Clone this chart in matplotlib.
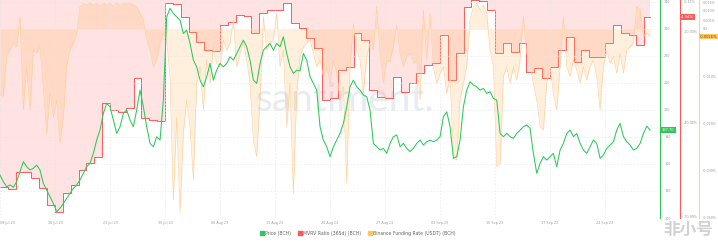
import numpy as np
import pandas as pd
import matplotlib
matplotlib.use("Agg")
import matplotlib.pyplot as plt
import matplotlib.dates as mdates
import matplotlib.transforms as mtransforms
from matplotlib.lines import Line2D

# sampled about every 10 hours, starting 09 Jul 23
START = pd.Timestamp("2023-07-09 00:00")

price = [
    147.8, 140.4, 134.8, 136.7, 134.1, 140.4, 151.5, 162.6, 157.0, 153.3,
    155.2, 158.8, 153.3, 138.5, 131.1, 123.7, 116.3, 107.1, 110.8, 116.3,
    121.9, 127.4, 132.9, 136.7, 142.2, 149.6, 157.0, 160.7, 171.8, 186.6,
    197.7, 216.2, 227.3, 223.6, 208.8, 194.0, 201.4, 216.2, 219.9, 208.8,
    201.4, 219.9, 242.1, 223.6, 201.4, 182.9, 179.2, 190.3, 186.6, 231.0,
    323.5, 332.8, 327.2, 323.5, 319.8, 305.0, 308.7, 293.9, 275.4, 268.0,
    253.2, 245.8, 256.9, 271.7, 253.2, 264.3, 271.7, 268.0, 271.7, 279.1,
    275.4, 282.8, 290.2, 297.6, 290.2, 275.4, 253.2, 249.5, 271.7, 286.5,
    290.2, 293.9, 286.5, 293.9, 290.2, 301.3, 282.8, 268.0, 260.6, 264.3,
    263.5, 282.8, 275.4, 256.9, 249.5, 242.1, 201.4, 186.6, 179.2, 168.1,
    179.2, 186.6, 194.0, 205.1, 223.6, 245.8, 253.2, 245.8, 242.1,
    236.6, 234.7, 219.9, 182.9, 179.2, 175.5, 177.4, 171.8, 182.9, 190.3,
    192.2, 179.2, 182.9, 177.4, 173.7, 177.4, 182.9, 186.6, 181.1, 184.8,
    186.6, 184.8, 186.6, 190.3, 212.5, 218.0, 201.4, 166.3, 168.1, 186.6,
    223.6, 242.1, 251.4, 247.7, 245.8, 242.1, 244.0, 238.4, 240.3, 232.9,
    231.0, 194.0, 190.3, 194.0, 190.3, 188.5, 194.0, 197.7, 201.4, 203.3,
    199.6, 171.8, 149.6, 160.7, 168.1, 164.4, 168.1, 171.8, 157.0, 175.5,
    182.9, 194.0, 197.7, 190.3, 194.0, 182.9, 175.5, 171.8, 179.2, 186.6,
    182.9, 166.3, 170.0, 177.4, 181.1, 184.8, 197.7, 205.1, 190.3, 184.8,
    181.1, 175.5, 177.4, 182.9, 194.0, 202.1, 197.7,
]

# funding rate in %, same timestamps as price
funding = [
    -0.0137, -0.0144, -0.0059, -0.0045, -0.0030, -0.0038, 0.0069, -0.0172, -0.0080, -0.0172,
    -0.0045, -0.0052, -0.0038, -0.0123, -0.0222, -0.0137, -0.0187, -0.0151, -0.0243, -0.0187,
    -0.0080, -0.0045, -0.0030, -0.0009, 0.0124, 0.0143, 0.0133, 0.0143, 0.0133, 0.0143,
    0.0124, 0.0143, 0.0133, 0.0143, 0.0124, 0.0143, 0.0133, 0.0143, 0.0139, 0.0143,
    0.0133, 0.0124, 0.0087, 0.0050, -0.0023, -0.0045, -0.0080, -0.0066, -0.0030, -0.0009,
    -0.0023, -0.0101, -0.0364, -0.0187, -0.0392, -0.0222, -0.0151, -0.0208, -0.0321, -0.0116,
    -0.0080, -0.0172, -0.0066, -0.0116, -0.0038, -0.0073, -0.0080, -0.0023, -0.0045, -0.0030,
    0.0050, -0.0080, -0.0052, -0.0030, -0.0066, -0.0116, -0.0236, -0.0272, -0.0151, 0.0069,
    -0.0045, -0.0030, -0.0023, 0.0087, -0.0080, -0.0045, -0.0208, -0.0116, -0.0350, -0.0137,
    -0.0059, -0.0038, -0.0030, -0.0023, -0.0052, -0.0080, -0.0066, -0.0101, -0.0080, -0.0116,
    -0.0066, -0.0094, -0.0151, -0.0123, -0.0328, -0.0080, 0.0031, -0.0045, -0.0066,
    -0.0137, -0.0059, -0.0030, -0.0045, 0.0124, -0.0052, -0.0116, -0.0066, -0.0070, -0.0038,
    0.0022, -0.0052, -0.0080, -0.0059, -0.0052, -0.0073, -0.0066, -0.0151, 0.0106, -0.0066,
    0.0087, -0.0080, -0.0116, -0.0094, -0.0080, -0.0137, -0.0101, -0.0265, -0.0279, -0.0151,
    -0.0116, -0.0080, 0.0050, 0.0124, 0.0143, 0.0106, 0.0133, 0.0087, -0.0045, -0.0080,
    -0.0293, -0.0286, -0.0101, -0.0080, -0.0116, -0.0080, -0.0109, -0.0066, 0.0069, -0.0052,
    -0.0080, -0.0116, -0.0151, -0.0208, -0.0215, -0.0116, -0.0080, -0.0137, -0.0172, -0.0080,
    0.0069, -0.0080, -0.0101, -0.0066, -0.0087, -0.0116, -0.0080, -0.0109, -0.0080, -0.0066,
    -0.0101, -0.0172, -0.0080, -0.0045, -0.0073, -0.0059, -0.0094, -0.0052, -0.0094, -0.0045,
    -0.0038, -0.0030, 0.0124, 0.0106, -0.0016, -0.0009, -0.0016,
]

# daily MVRV (365d) in %
mvrv = [
    -60.99, -61.6, -56.04, -56.0, -58.24, -61.54, -67.03, -69.23, -63.19, -60.44,
    -55.49, -53.30, -51.10, -33.52, -35.71, -36.26, -35.17, -25.28, -38.46, -39.01,
    -39.2, -0.55, -0.9, -4.94, -9.89, -13.19, -15.93, -16.1, -7.69, -6.59,
    -4.40, -4.6, -10.44, -3.85, -2.75, -2.9, -0.55, -7.14, -8.79, -12.09,
    -15.39, -32.42, -31.87, -22.53, -21.43, -10.44, -12.64, -29.12, -31.32, -31.87,
    -24.73, -29.67, -26.92, -23.63, -20.88, -20.33, -10.99, -25.82, -17.03, -1.65,
    0.4, 0.3, -2.75, -17.03, -13.74, -16.48, -13.5, -23.08, -21.98, -25.28,
    -21.43, -15.93, -11.54, -19.78, -15.93, -18.13, -18.4, -13.74, -7.69, -10.44,
    -10.99, -14.29, -4.94,
]

price_ticks = [340, 310, 280, 250, 220, 190, 160, 130, 100]
mvrv_ticks = [-0.11, -10, -40, -70.99]
funding_ticks = [0.015, 0.010, 0.005, 0, -0.010, -0.020, -0.030, -0.040]
date_ticks = pd.date_range("2023-07-09", periods=12, freq="7D")

GREEN = "#2bc95a"
RED = "#ff5a5a"
ORANGE = "#ffd09a"
GREY = "#9a9a9a"

t_price = pd.date_range(START, periods=len(price), freq="611min")
t_mvrv = pd.date_range(START, periods=len(mvrv), freq="D").append(pd.DatetimeIndex([t_price[-1]]))
m_vals = np.append(mvrv, mvrv[-1])

M_TOP, M_BOT = 0.549, -71.32
F_TOP, F_BOT = 29 / 1800, -(218 - 29) / 4700


def f_fwd(v):
    v = np.asarray(v, dtype=float)
    return np.where(v >= 0, v * 1800, v * 4700)


def f_inv(u):
    u = np.asarray(u, dtype=float)
    return np.where(u >= 0, u / 1800, u / 4700)


fig = plt.figure(figsize=(7.18, 2.45), dpi=100)
fig.patch.set_facecolor("white")
ax = fig.add_axes([0, 1 - 218 / 245, 660 / 718, 218 / 245])
axm = ax.twinx()
axf = ax.twinx()
ax.yaxis.tick_right()
ax.set_zorder(3)
axf.set_zorder(2)
axm.set_zorder(1)
ax.patch.set_visible(False)

# watermark
fig.text(0.4805, 0.592, "santiment.", fontsize=28, family="Lato", color="#e8ebf0",
         ha="center", va="center", zorder=0.5)

# MVRV
axm.fill_between(t_mvrv, m_vals, M_TOP, step="post", color="#ff6b6b", alpha=0.19, lw=0)
axm.step(t_mvrv, m_vals, where="post", color=RED, lw=0.7)
axm.set_ylim(M_BOT, M_TOP)
axm.set_yticks(mvrv_ticks, labels=["%.2f%%" % v for v in mvrv_ticks])

# funding
axf.set_yscale("function", functions=(f_fwd, f_inv))
axf.fill_between(t_price, 0, funding, color="#ffb45c", alpha=0.21, lw=0)
axf.plot(t_price, funding, color=ORANGE, lw=0.45)
axf.set_ylim(F_BOT, F_TOP)
axf.set_yticks(funding_ticks, labels=["0%" if v == 0 else "%.3f%%" % v for v in funding_ticks])

# price
ax.plot(t_price, price, color=GREEN, lw=0.75)
ax.set_ylim(100, 342.2)
ax.set_yticks(price_ticks, labels=[str(v) for v in price_ticks])
ax.set_xlim(START, START + pd.Timedelta(days=84))
ax.set_xticks(date_ticks)
ax.xaxis.set_major_formatter(mdates.DateFormatter("%d %b %y"))
ax.grid(True, color="#e6e6e6", lw=0.4, ls=(0, (3, 3)))
ax.get_xaxis().get_major_ticks()[0].label1.set_horizontalalignment("left")

for a in (ax, axm, axf):
    for s in ("top", "bottom", "left"):
        a.spines[s].set_visible(False)
    a.tick_params(axis="both", length=0, labelsize=2.4, labelcolor=GREY, pad=3)
ax.tick_params(axis="x", pad=2)

ax.spines["right"].set_color(GREEN)
ax.spines["right"].set_linewidth(0.8)
axm.spines["right"].set_position(("axes", 1 + 20 / 660))
axm.spines["right"].set_color(RED)
axm.spines["right"].set_linewidth(0.8)
axf.spines["right"].set_position(("axes", 1 + 39 / 660))
axf.spines["right"].set_color("#ffd49a")
axf.spines["right"].set_linewidth(0.8)

# current value badges
box = dict(boxstyle="square,pad=0.25", ec="none")
ax.text(1.003, price[-1], "%.2f" % price[-1], fontsize=2.6, color="white", va="center", ha="left",
        transform=mtransforms.blended_transform_factory(ax.transAxes, ax.transData),
        bbox=dict(box, fc=GREEN))
axm.text(1 + 21 / 660, mvrv[-1], "%.2f%%" % mvrv[-1], fontsize=2.6, color="white", va="center", ha="left",
         transform=mtransforms.blended_transform_factory(axm.transAxes, axm.transData),
         bbox=dict(box, fc=RED))
axf.text(1 + 40 / 660, funding[-1], "%.4f%%" % funding[-1], fontsize=2.6, color="#6b4a1a", va="center", ha="left",
         transform=mtransforms.blended_transform_factory(axf.transAxes, axf.transData),
         bbox=dict(box, fc="#ffc65e"))

handles = [
    Line2D([0], [0], marker="s", ls="none", markersize=2.4, color=GREEN),
    Line2D([0], [0], marker="s", ls="none", markersize=2.4, color=RED),
    Line2D([0], [0], marker="s", ls="none", markersize=2.4, color="#ffc65e"),
]
fig.legend(handles, ["Price (BCH)", "MVRV Ratio (365d) (BCH)", "Binance Funding Rate (USDT) (BCH)"],
           loc="center", bbox_to_anchor=(358 / 718, 1 - 233 / 245), ncol=3, frameon=False,
           fontsize=3.3, handlelength=0.6, handletextpad=0.4, columnspacing=1.6, labelcolor="#666666")

fig.text(0.993, 0.06, "非小号", family=["Noto Sans CJK SC", "DejaVu Sans"], fontsize=12,
         color="#d2d2d2", ha="right", va="center", weight="bold")

fig.savefig("out.png", dpi=100)
